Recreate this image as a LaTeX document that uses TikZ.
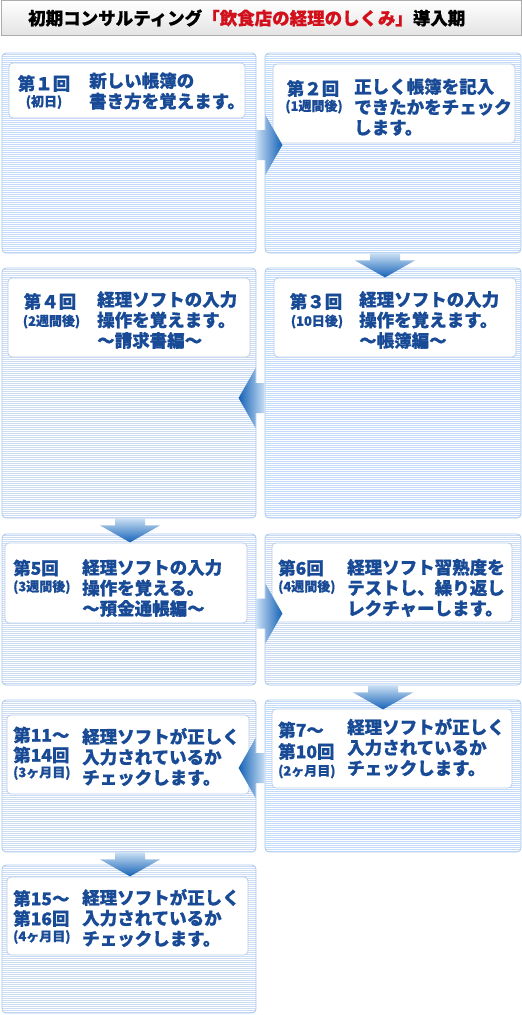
\documentclass[tikz,border=0pt]{standalone}
\usepackage{fontspec}
\setmainfont{Noto Sans CJK JP}[BoldFeatures={FakeBold=0.7}]
\usetikzlibrary{calc,positioning}

\definecolor{panelline}{RGB}{170,200,238}
\definecolor{stripeblue}{RGB}{196,220,250}
\definecolor{stripegray}{RGB}{204,220,242}
\definecolor{cardline}{RGB}{186,206,234}
\definecolor{textblue}{RGB}{24,74,150}
\definecolor{titlered}{RGB}{210,16,28}
\definecolor{arrowlight}{RGB}{200,222,244}
\definecolor{arrowdark}{RGB}{20,98,182}

\tikzset{
  panel/.style={draw=panelline, line width=0.8pt, rounded corners=4pt, inner sep=0pt,
    path picture={\foreach \k in {1.5,3.5,...,260}
      \draw[#1, line width=1pt] ([yshift=-\k pt]path picture bounding box.north west) -- ([yshift=-\k pt]path picture bounding box.north east);}},
  card/.style={draw=cardline, fill=white, line width=0.8pt, rounded corners=4pt, inner sep=0pt},
  lab/.style={font=\bfseries\fontsize{17.5}{20}\selectfont, text=textblue, inner sep=0pt},
  sublab/.style={font=\bfseries\fontsize{13}{14}\selectfont, text=textblue, inner sep=0pt},
  body/.style={font=\bfseries\fontsize{17.5}{20.5}\selectfont, text=textblue, align=left, anchor=west, inner sep=0pt},
  titlebar/.style={draw=gray!65, top color=white, bottom color=gray!22, inner sep=0pt}
}

\newcommand\arrowdown[1]{\path[top color=arrowlight, bottom color=arrowdark] (#1) ++(-15,0) -- ++(30,0) -- ++(0,7) -- ++(15,0) -- ++(-30,17) -- ++(-30,-17) -- ++(15,0) -- cycle;}
\newcommand\arrowright[1]{\path[left color=arrowlight, right color=arrowdark] (#1) ++(0,-15) -- ++(9,0) -- ++(0,-15) -- ++(17,30) -- ++(-17,30) -- ++(0,-15) -- ++(-9,0) -- cycle;}
\newcommand\arrowleft[1]{\path[left color=arrowdark, right color=arrowlight] (#1) ++(0,-15) -- ++(-9,0) -- ++(0,-15) -- ++(-17,30) -- ++(17,30) -- ++(0,-15) -- ++(9,0) -- cycle;}

\begin{document}
\begin{tikzpicture}[x=1pt,y=-1pt]
\useasboundingbox (0,0) rectangle (522,1015);
\fill[white] (0,0) rectangle (522,1015);

\node[titlebar, minimum width=520pt, minimum height=35pt] (bar) at (261,18) {};
\node[font=\bfseries\fontsize{17.5}{20}\selectfont, anchor=west, inner sep=0pt] (title) at (28,18) {初期コンサルティング\textcolor{titlered}{「飲食店の経理のしくみ」}導入期};

\node[panel=stripeblue, minimum width=254pt, minimum height=200pt] (p1) at (129,153) {};
\node[panel=stripeblue, minimum width=256pt, minimum height=200pt] (p2) at (393,153) {};
\node[panel=stripegray, minimum width=254pt, minimum height=250pt] (p4) at (129,393) {};
\node[panel=stripeblue, minimum width=256pt, minimum height=250pt] (p3) at (393,393) {};
\node[panel=stripegray, minimum width=254pt, minimum height=151pt] (p5) at (129,609.5) {};
\node[panel=stripegray, minimum width=256pt, minimum height=151pt] (p6) at (393,609.5) {};
\node[panel=stripegray, minimum width=254pt, minimum height=152pt] (p11) at (129,776) {};
\node[panel=stripeblue, minimum width=256pt, minimum height=152pt] (p7) at (393,776) {};
\node[panel=stripegray, minimum width=254pt, minimum height=148pt] (p15) at (129,939) {};

\node[card, minimum width=236pt, minimum height=55pt] (c1) at (127,90.5) {};
\node[card, minimum width=242pt, minimum height=79pt] (c2) at (394,103.5) {};
\node[card, minimum width=242pt, minimum height=79pt] (c3) at (395,317.5) {};
\node[card, minimum width=242pt, minimum height=79pt] (c4) at (129,317.5) {};
\node[card, minimum width=242pt, minimum height=80pt] (c5) at (126,583) {};
\node[card, minimum width=240pt, minimum height=79pt] (c6) at (392,582.5) {};
\node[card, minimum width=240pt, minimum height=79pt] (c7) at (392,748.5) {};
\node[card, minimum width=242pt, minimum height=79pt] (c11) at (128,754.5) {};
\node[card, minimum width=241pt, minimum height=78pt] (c15) at (127.5,916) {};

\node[lab] (n1) at (44,83.5) {第１回};
\node[sublab] (d1) at (44,102) {(初日)};
\node[body] (b1) at (89,91) {新しい帳簿の\\書き方を覚えます。};

\node[lab] (n2) at (313,88.5) {第２回};
\node[sublab] (d2) at (314,106.5) {(1週間後)};
\node[body] (b2) at (354,107) {正しく帳簿を記入\\できたかをチェック\\します。};

\node[lab] (n3) at (316,301.5) {第３回};
\node[sublab] (d3) at (317,321.5) {(10日後)};
\node[body] (b3) at (359,320) {経理ソフトの入力\\操作を覚えます。\\～帳簿編～};

\node[lab] (n4) at (50,301.5) {第４回};
\node[sublab] (d4) at (51.5,321.5) {(2週間後)};
\node[body] (b4) at (97,320) {経理ソフトの入力\\操作を覚えます。\\～請求書編～};

\node[lab, anchor=west] (n5) at (13,568) {第5回};
\node[sublab, anchor=west] (d5) at (13,587) {(3週間後)};
\node[body] (b5) at (82,588) {経理ソフトの入力\\操作を覚える。\\～預金通帳編～};

\node[lab, anchor=west] (n6) at (278,568) {第6回};
\node[sublab, anchor=west] (d6) at (278,587) {(4週間後)};
\node[body] (b6) at (347,588) {経理ソフト習熟度を\\テストし、繰り返し\\レクチャーします。};

\node[lab, anchor=west] (n7) at (278,730) {第7～};
\node[lab, anchor=west] (m7) at (278,751.5) {第10回};
\node[sublab, anchor=west] (d7) at (278,771.5) {(2ヶ月目)};
\node[body] (b7) at (347,747.5) {経理ソフトが正しく\\入力されているか\\チェックします。};

\node[lab, anchor=west] (n11) at (13,735) {第11～};
\node[lab, anchor=west] (m11) at (13,755) {第14回};
\node[sublab, anchor=west] (d11) at (13,773) {(3ヶ月目)};
\node[body] (b11) at (82,757) {経理ソフトが正しく\\入力されているか\\チェックします。};

\node[lab, anchor=west] (n15) at (13,898.5) {第15～};
\node[lab, anchor=west] (m15) at (13,918.5) {第16回};
\node[sublab, anchor=west] (d15) at (13,937) {(4ヶ月目)};
\node[body] (b15) at (82,918) {経理ソフトが正しく\\入力されているか\\チェックします。};

\coordinate (a12) at ($(p1.east)+(0,-8)$);
\coordinate (a23) at ($(p2.south)+(-8,0)$);
\coordinate (a34) at ($(p3.west)+(0,5)$);
\coordinate (a45) at ($(p4.south)+(1,0)$);
\coordinate (a56) at ($(p5.east)+(0,4)$);
\coordinate (a67) at ($(p6.south)+(-10,0)$);
\coordinate (a711) at ($(p7.west)+(0,-8)$);
\coordinate (a1115) at ($(p11.south)+(1,0)$);
\arrowright{a12}
\arrowdown{a23}
\arrowleft{a34}
\arrowdown{a45}
\arrowright{a56}
\arrowdown{a67}
\arrowleft{a711}
\arrowdown{a1115}
\end{tikzpicture}
\end{document}
